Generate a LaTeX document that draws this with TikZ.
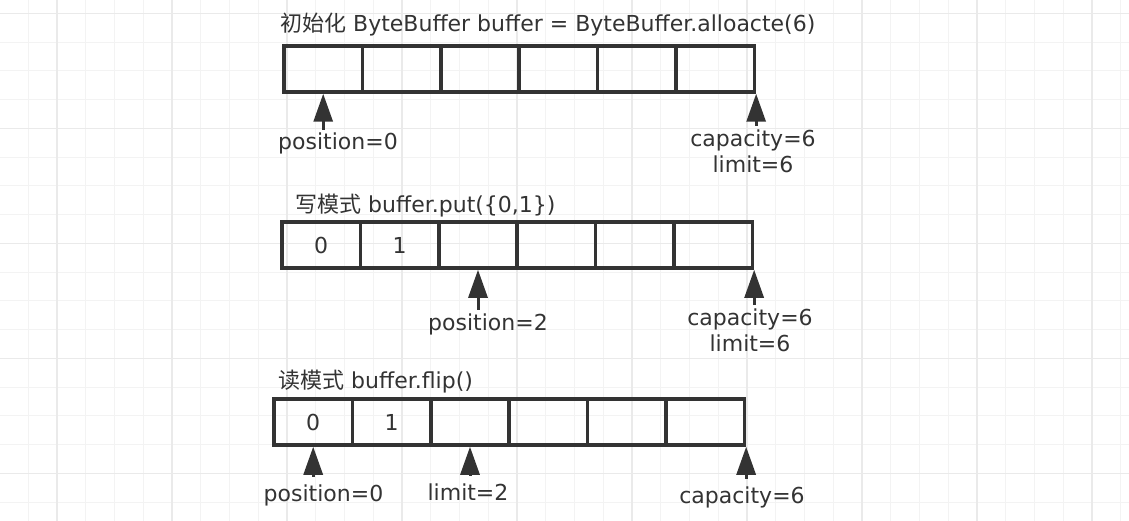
\documentclass[tikz,border=0pt]{standalone}
\usepackage{fontspec}
\setmainfont{DejaVu Sans}
\newfontfamily\cjk{Noto Sans CJK SC}
\usetikzlibrary{arrows.meta}

\begin{document}
\begin{tikzpicture}
		[x=1pt,y=-1pt,line join=miter,
		%Styles
		cell/.style={draw=ink,line width=3.5pt,minimum width=78.4pt,minimum height=46pt,inner sep=0pt},
		cell text/.style={text=ink,font=\fontsize{22}{26}\selectfont},
		pointer/.style={ink,line width=3pt,-{Triangle[length=28pt,width=19pt]}},
		label text/.style={text=ink,font=\fontsize{22}{26}\selectfont,align=center},
		title text/.style={text=ink,font=\fontsize{22}{26}\selectfont,inner sep=0pt,anchor=base west},
		minor line/.style={draw=gridminor,line width=1pt},
		major line/.style={draw=gridmajor,line width=1.2pt}
		]
		
		%Colors
		\definecolor{ink}{HTML}{333333}		%boxes, arrows and text
		\definecolor{gridminor}{HTML}{F3F3F3}
		\definecolor{gridmajor}{HTML}{EAEAEA}
		
		%The grid
		\useasboundingbox (0,0) rectangle (1129,521);
		\foreach \k in {1,...,39} \draw[minor line] ({28.75*\k-0.5},0) -- ({28.75*\k-0.5},521);
		\foreach \k in {0,...,17} \draw[minor line] (0,{13.3+28.75*\k}) -- (1129,{13.3+28.75*\k});
		\foreach \k in {0,...,9} \draw[major line] ({57+115*\k},0) -- ({57+115*\k},521);
		\foreach \k in {0,...,4} \draw[major line] (0,{13.3+115*\k}) -- (1129,{13.3+115*\k});
		
		%The buffers
		\foreach \i in {1,...,6}{
			\node[cell] (r1c\i) at ({284+78.4*(\i-0.5)},69) {};
			\node[cell] (r2c\i) at ({282+78.4*(\i-0.5)},245) {};
			\node[cell] (r3c\i) at ({274+78.4*(\i-0.5)},422) {};
		}
		\node[cell text] (v21) at (r2c1) {0};
		\node[cell text] (v22) at (r2c2) {1};
		\node[cell text] (v31) at (r3c1) {0};
		\node[cell text] (v32) at (r3c2) {1};
		
		\node[title text] (title1) at (280,32) {{\cjk 初始化} ByteBuffer buffer = ByteBuffer.alloacte(6)};
		\node[title text] (title2) at (295,213) {{\cjk 写模式} buffer.put(\{0,1\})};
		\node[title text] (title3) at (278,388) {{\cjk 读模式} buffer.flip()};
		
		%Labels and pointers
		\node[label text,anchor=base] (pos1) at (338,150) {position=0};
		\node[label text,anchor=north] (cap1) at (753,126) {capacity=6\\limit=6};
		\node[label text,anchor=base] (pos2) at (488,330) {position=2};
		\node[label text,anchor=north] (cap2) at (750,305) {capacity=6\\limit=6};
		\node[label text,anchor=base] (pos3) at (323.5,501) {position=0};
		\node[label text,anchor=base] (lim3) at (468,500) {limit=2};
		\node[label text,anchor=base] (cap3) at (742,503) {capacity=6};
		
		\draw[pointer] (pos1.north -| r1c1.south) -- (r1c1.south);
		\draw[pointer] (cap1.north -| r1c6.south east) -- (r1c6.south east);
		\draw[pointer] (pos2.north -| r2c3.south) -- (r2c3.south);
		\draw[pointer] (cap2.north -| r2c6.south east) -- (r2c6.south east);
		\draw[pointer,shorten <=4pt] (pos3.north -| r3c1.south) -- (r3c1.south);
		\draw[pointer,shorten <=4pt] (lim3.north -| r3c3.south) -- (r3c3.south);
		\draw[pointer,shorten <=4pt] (cap3.north -| r3c6.south east) -- (r3c6.south east);
		
	\end{tikzpicture}
\end{document}
